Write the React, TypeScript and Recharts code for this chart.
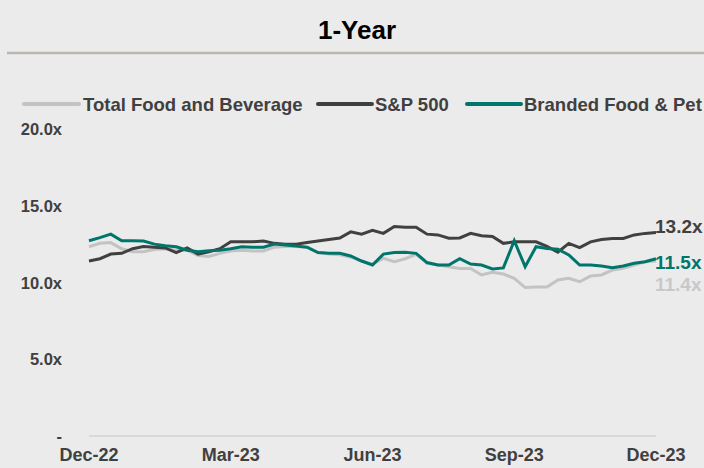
import React from "react";
import { LineChart, Line, XAxis, YAxis } from "recharts";

const seriesNames = ["Total Food and Beverage", "S&P 500", "Branded Food & Pet"];

const totalFoodBev = [
  12.33, 12.55, 12.6, 12.2, 12.0, 12.0, 12.15, 12.2, 12.1, 12.1,
  11.75, 11.7, 11.9, 12.05, 12.1, 12.05, 12.05, 12.3, 12.35, 12.35,
  12.3, 11.95, 11.85, 11.8, 11.65, 11.4, 11.2, 11.57, 11.35, 11.55,
  11.84, 11.25, 11.14, 11.03, 10.92, 10.92, 10.49, 10.66, 10.55, 10.27,
  9.67, 9.7, 9.7, 10.16, 10.27, 10.05, 10.42, 10.49, 10.81, 10.92,
  11.14, 11.35, 11.4,
];

const sp500 = [
  11.4, 11.55, 11.85, 11.9, 12.2, 12.35, 12.3, 12.25, 11.95, 12.25,
  11.85, 12.0, 12.2, 12.65, 12.65, 12.65, 12.7, 12.55, 12.5, 12.5,
  12.6, 12.7, 12.8, 12.9, 13.3, 13.15, 13.4, 13.2, 13.65, 13.6,
  13.6, 13.15, 13.1, 12.88, 12.9, 13.2, 13.05, 13.0, 12.55, 12.65,
  12.65, 12.65, 12.35, 11.97, 12.55, 12.27, 12.65, 12.8, 12.87, 12.87,
  13.1, 13.2, 13.25,
];

const brandedFoodPet = [
  12.72, 12.92, 13.15, 12.72, 12.72, 12.7, 12.5, 12.4, 12.33, 12.1,
  12.0, 12.07, 12.1, 12.2, 12.33, 12.3, 12.3, 12.5, 12.44, 12.37,
  12.3, 11.95, 11.9, 11.9, 11.73, 11.4, 11.14, 11.85, 11.95, 11.97,
  11.9, 11.3, 11.14, 11.14, 11.55, 11.2, 11.14, 10.88, 10.95, 12.72,
  11.03, 12.33, 12.22, 12.17, 11.8, 11.14, 11.14, 11.07, 10.97, 11.07,
  11.25, 11.35, 11.55,
];

const endLabels = ["11.4x", "13.2x", "11.5x"];
const xTickPositions = [0, 13, 26, 39, 52];
const xTickLabels = ["Dec-22", "Mar-23", "Jun-23", "Sep-23", "Dec-23"];
const yTicks = [0, 5, 10, 15, 20];

const colors = ["#C3C3C3", "#404040", "#00756C"];
const labelColors = ["#C8C8C8", "#404040", "#00756C"];
const labelDy = [30, 0, 10];

const data = totalFoodBev.map((v, i) => ({
  idx: i,
  tfb: v,
  sp: sp500[i],
  bfp: brandedFoodPet[i],
}));

const FONT = "'Liberation Sans', Arial, sans-serif";
const lastIndex = data.length - 1;

const makeEndLabel = (k: number) => (props: any) => {
  const { x, y, index } = props;
  if (index !== lastIndex) return null;
  return (
    <text
      x={x - 1}
      y={y + labelDy[k]}
      fill={labelColors[k]}
      fontSize={19}
      fontWeight="bold"
      fontFamily={FONT}
      textAnchor="start"
    >
      {endLabels[k]}
    </text>
  );
};

const YTick = (props: any) => {
  const { y, payload } = props;
  const v = payload.value;
  const txt = v === 0 ? "-" : `${v.toFixed(1)}x`;
  return (
    <text
      x={62}
      y={y + 6}
      textAnchor="end"
      fill="#404040"
      fontSize={16.5}
      fontWeight="bold"
      fontFamily={FONT}
    >
      {txt}
    </text>
  );
};

const XTick = (props: any) => {
  const { x, y, payload } = props;
  const i = xTickPositions.indexOf(payload.value);
  return (
    <text
      x={x}
      y={y + 17}
      textAnchor="middle"
      fill="#404040"
      fontSize={18}
      fontWeight="bold"
      fontFamily={FONT}
    >
      {xTickLabels[i]}
    </text>
  );
};

const legendItems = [
  { lineX: 24, lineW: 55, textX: 83 },
  { lineX: 318, lineW: 54, textX: 375 },
  { lineX: 467, lineW: 54, textX: 524 },
];

export default function App() {
  return (
    <div
      style={{
        position: "absolute",
        left: 0,
        top: 0,
        width: 704,
        height: 468,
        background: "#EBEBEB",
        overflow: "hidden",
      }}
    >
      <svg
        width={704}
        height={468}
        style={{ position: "absolute", left: 0, top: 0 }}
      >
        <text
          x={357}
          y={39}
          textAnchor="middle"
          fontSize={26}
          fontWeight="bold"
          fill="#000000"
          fontFamily={FONT}
        >
          1-Year
        </text>
        <line x1={7} x2={704} y1={53} y2={53} stroke="#BDB6AE" strokeWidth={2.5} />
        {legendItems.map((it, k) => (
          <g key={k}>
            <line
              x1={it.lineX}
              x2={it.lineX + it.lineW}
              y1={104}
              y2={104}
              stroke={colors[k]}
              strokeWidth={4}
              strokeLinecap="round"
            />
            <text
              x={it.textX}
              y={110.5}
              fontSize={18.5}
              fontWeight="bold"
              fill="#404040"
              fontFamily={FONT}
            >
              {seriesNames[k]}
            </text>
          </g>
        ))}
      </svg>
      <div style={{ position: "absolute", left: 0, top: 0 }}>
        <LineChart
          width={704}
          height={468}
          data={data}
          margin={{ top: 129, right: 48, bottom: 0, left: 0 }}
        >
          <XAxis
            dataKey="idx"
            type="number"
            domain={[0, 52]}
            ticks={xTickPositions}
            interval={0}
            height={32}
            tickLine={false}
            axisLine={{ stroke: "#D9D9D9", strokeWidth: 2 }}
            tick={<XTick />}
          />
          <YAxis
            domain={[0, 20]}
            ticks={yTicks}
            width={89}
            axisLine={false}
            tickLine={false}
            tick={<YTick />}
          />
          <Line
            dataKey="tfb"
            stroke={colors[0]}
            strokeWidth={3}
            dot={false}
            isAnimationActive={false}
            label={makeEndLabel(0)}
          />
          <Line
            dataKey="sp"
            stroke={colors[1]}
            strokeWidth={3}
            dot={false}
            isAnimationActive={false}
            label={makeEndLabel(1)}
          />
          <Line
            dataKey="bfp"
            stroke={colors[2]}
            strokeWidth={3}
            dot={false}
            isAnimationActive={false}
            label={makeEndLabel(2)}
          />
        </LineChart>
      </div>
    </div>
  );
}
